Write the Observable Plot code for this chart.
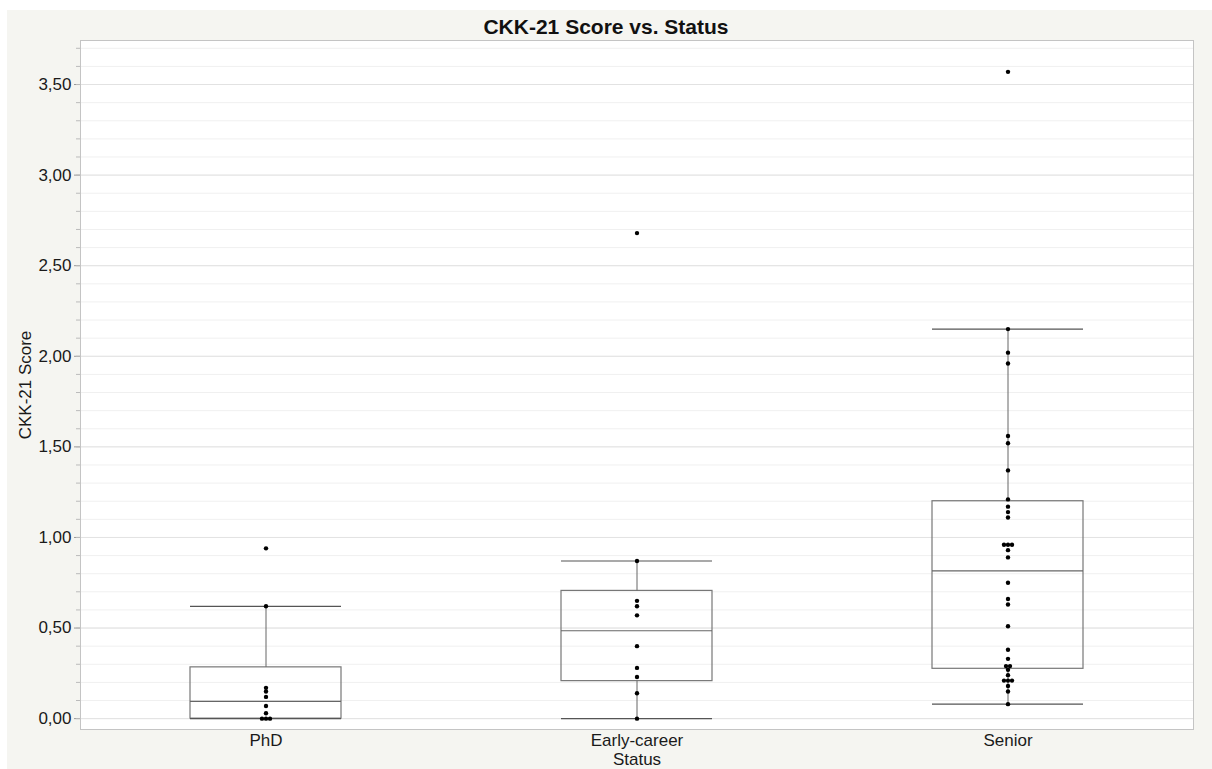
<!DOCTYPE html>
<html>
<head>
<meta charset="utf-8">
<script src="https://cdn.jsdelivr.net/npm/d3@7"></script>
<script src="https://cdn.jsdelivr.net/npm/@observablehq/plot@0.6"></script>
<style>
  html, body { margin: 0; padding: 0; background: #ffffff; }
  #wrap { position: relative; width: 1212px; height: 769px; overflow: hidden; }
  #panel { position: absolute; left: 7px; top: 10px; right: 0; bottom: 0; background: #f5f5f1; }
  #title { position: absolute; left: 0; top: 16px; width: 1212px; text-align: center;
           font: bold 21px "Liberation Sans", Arial, sans-serif; line-height: 1; color: #111; }
  #chart { position: absolute; left: 0; top: 0; }
</style>
</head>
<body>
<div id="wrap">
  <div id="panel"></div>
  <div id="chart"></div>
  <div id="title">CKK-21 Score vs. Status</div>
</div>
<script>
// ---- data ----
const categories = ["PhD", "Early-career", "Senior"];
const phdScores = [0, 0, 0, 0.03, 0.07, 0.12, 0.15, 0.17, 0.62, 0.94];
const earlyScores = [0, 0.14, 0.23, 0.28, 0.40, 0.57, 0.62, 0.65, 0.87, 2.68];
const seniorScores = [0.08, 0.15, 0.18, 0.21, 0.21, 0.21, 0.24, 0.27, 0.29, 0.29, 0.33, 0.38,
  0.51, 0.63, 0.66, 0.75, 0.89, 0.93, 0.96, 0.96, 0.96, 1.11, 1.14, 1.17, 1.21,
  1.37, 1.52, 1.56, 1.96, 2.02, 2.15, 3.57];
// box statistics (quartiles, median, whisker ends) as drawn
const q1 = [0, 0.207, 0.275];
const medians = [0.095, 0.485, 0.815];
const q3 = [0.283, 0.705, 1.20];
const whiskerLow = [0, 0, 0.08];
const whiskerHigh = [0.62, 0.87, 2.15];
// axis ticks
const majorTicks = [0, 0.5, 1, 1.5, 2, 2.5, 3, 3.5];
const minorTicks = d3.range(0, 38).map(i => +(i * 0.1).toFixed(1));

// ---- build tables ----
const boxes = categories.map((c, i) => ({
  status: c, q1: q1[i], med: medians[i], q3: q3[i], lo: whiskerLow[i], hi: whiskerHigh[i]
}));
const seriesByCat = [phdScores, earlyScores, seniorScores];
const points = [];
seriesByCat.forEach((arr, ci) => {
  const groups = d3.group(arr, v => v);
  for (const [v, items] of groups) {
    const m = items.length;
    items.forEach((_, k) => points.push({status: categories[ci], value: v, off: k - (m - 1) / 2}));
  }
});
const offsets = Array.from(new Set(points.map(p => p.off)));
const fmt = d => d.toFixed(2).replace(".", ",");
const inset = 110;

const chart = Plot.plot({
  width: 1212,
  height: 769,
  marginLeft: 80,
  marginRight: 19,
  marginTop: 40,
  marginBottom: 40,
  style: {background: "transparent", fontFamily: "'Liberation Sans', Arial, sans-serif", fontSize: "17px", color: "#1a1a1a"},
  x: {domain: categories, padding: 0, label: null},
  y: {domain: [-0.06, 3.743], label: null},
  marks: [
    Plot.frame({fill: "white", stroke: null}),
    Plot.ruleY(minorTicks, {stroke: "#f0f0f0"}),
    Plot.ruleY(majorTicks, {stroke: "#e2e2e2"}),
    Plot.barY(boxes, {x: "status", y1: "q1", y2: "q3", fill: "none", stroke: "#777", strokeWidth: 1.2, insetLeft: inset, insetRight: inset}),
    Plot.tickY(boxes, {x: "status", y: "med", stroke: "#666", strokeWidth: 1.2, insetLeft: inset, insetRight: inset}),
    Plot.tickY(boxes, {x: "status", y: "lo", stroke: "#555", strokeWidth: 1.2, insetLeft: inset, insetRight: inset}),
    Plot.tickY(boxes, {x: "status", y: "hi", stroke: "#555", strokeWidth: 1.2, insetLeft: inset, insetRight: inset}),
    Plot.ruleX(boxes, {x: "status", y1: "q3", y2: "hi", stroke: "#666"}),
    Plot.ruleX(boxes, {x: "status", y1: "lo", y2: "q1", stroke: "#666"}),
    ...offsets.map(o => Plot.dot(points.filter(p => p.off === o), {
      x: "status", y: "value", r: 2.2, fill: "#000", stroke: null, dx: o * 4
    })),
    Plot.frame({stroke: "#c4c4c4"}),
    Plot.axisY(majorTicks, {tickSize: 6, tickPadding: 3, tickFormat: fmt, stroke: "#999", fontSize: 17,
      label: "CKK-21 Score", labelAnchor: "center", labelArrow: "none", labelOffset: 62}),
    Plot.axisY(minorTicks, {tickSize: 4, text: null, label: null, stroke: "#bbb"}),
    Plot.axisX({tickSize: 0, tickPadding: 4, fontSize: 17, label: "Status", labelAnchor: "center", labelArrow: "none", labelOffset: 35})
  ]
});
document.getElementById("chart").appendChild(chart);
</script>
</body>
</html>
